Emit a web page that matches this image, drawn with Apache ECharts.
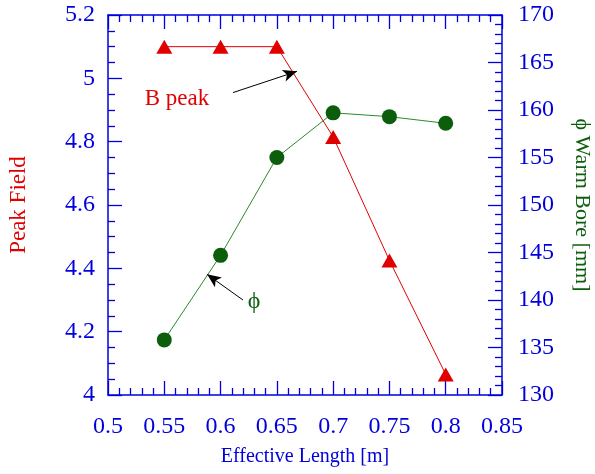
<!DOCTYPE html>
<html><head><meta charset="utf-8">
<script src="https://cdn.jsdelivr.net/npm/echarts@6/dist/echarts.min.js"></script>
<style>html,body{margin:0;padding:0;background:#fff}#c{width:595px;height:474px}</style>
</head><body><div id="c"></div>
<script>
const lengths = [0.55, 0.6, 0.65, 0.7, 0.75, 0.8];
const peakField = [5.1, 5.1, 5.1, 4.815, 4.425, 4.065];
const warmBore = [135.8, 144.7, 155.0, 159.7, 159.3, 158.6];
// annotation anchors in data coordinates
const bPeakLabel = [0.5613, 4.935];
const bPeakArrow = [[0.6110, 4.955], [0.6679, 5.022]];
const phiLabel = [0.6297, 139.8];
const phiArrow = [[0.6199, 140.0], [0.588, 142.7]];

const BLUE = '#0000dd', RED = '#e00000', GREEN = '#0c5e0c';
const FONT = '"Liberation Serif","Times New Roman",serif';
const chart = echarts.init(document.getElementById('c'));
const tickCommon = {inside: true, length: 14, lineStyle: {color: BLUE, width: 1.3}};
const minorCommon = {show: true, length: 7, lineStyle: {color: BLUE, width: 1.3}};
const lineCommon = {show: true, onZero: false, lineStyle: {color: BLUE, width: 1.5}};
chart.setOption({
  animation: false,
  grid: {left: 108, right: 93, top: 15, bottom: 79, containLabel: false, outerBoundsMode: 'none'},
  xAxis: [{
    type: 'value', min: 0.5, max: 0.85, interval: 0.05, position: 'bottom',
    name: 'Effective Length [m]', nameLocation: 'middle', nameGap: 52,
    nameTextStyle: {color: BLUE, fontFamily: FONT, fontSize: 20},
    axisLine: lineCommon, axisTick: tickCommon, minorTick: Object.assign({splitNumber: 5}, minorCommon),
    splitLine: {show: false},
    axisLabel: {color: BLUE, fontFamily: FONT, fontSize: 24, margin: 20}
  }, {
    type: 'value', min: 0.5, max: 0.85, interval: 0.05, position: 'top',
    axisLine: lineCommon, axisTick: tickCommon, minorTick: Object.assign({splitNumber: 5}, minorCommon),
    splitLine: {show: false}, axisLabel: {show: false}
  }],
  yAxis: [{
    type: 'value', min: 4, max: 5.2, interval: 0.2, position: 'left',
    name: 'Peak Field', nameLocation: 'middle', nameGap: 78, nameRotate: 90,
    nameTextStyle: {color: RED, fontFamily: FONT, fontSize: 23},
    axisLine: lineCommon, axisTick: tickCommon, minorTick: Object.assign({splitNumber: 4}, minorCommon),
    splitLine: {show: false},
    axisLabel: {color: BLUE, fontFamily: FONT, fontSize: 24, margin: 13}
  }, {
    type: 'value', min: 130, max: 170, interval: 5, position: 'right',
    name: 'ϕ Warm Bore [mm]', nameLocation: 'middle', nameGap: 69, nameRotate: -90,
    nameTextStyle: {color: GREEN, fontFamily: FONT, fontSize: 22},
    axisLine: lineCommon, axisTick: tickCommon, minorTick: Object.assign({splitNumber: 5}, minorCommon),
    splitLine: {show: false},
    axisLabel: {color: BLUE, fontFamily: FONT, fontSize: 24, margin: 16}
  }],
  series: [{
    type: 'line', xAxisIndex: 0, yAxisIndex: 0,
    data: lengths.map((x, i) => [x, peakField[i]]),
    symbol: 'triangle', symbolSize: [16, 14],
    lineStyle: {color: RED, width: 1}, itemStyle: {color: RED},
    markLine: {
      silent: true, symbol: ['none', 'arrow'], symbolSize: [9, 14],
      lineStyle: {color: '#000', width: 1, type: 'solid'}, label: {show: false},
      data: [[{coord: bPeakArrow[0]}, {coord: bPeakArrow[1]}]]
    },
    markPoint: {
      silent: true, symbol: 'circle', symbolSize: 0,
      label: {show: true, formatter: 'B peak', color: RED, fontFamily: FONT, fontSize: 23},
      data: [{coord: bPeakLabel}]
    },
    z: 3
  }, {
    type: 'line', xAxisIndex: 0, yAxisIndex: 1,
    data: lengths.map((x, i) => [x, warmBore[i]]),
    symbol: 'circle', symbolSize: 15,
    lineStyle: {color: '#2a8a2a', width: 1}, itemStyle: {color: GREEN},
    markLine: {
      silent: true, symbol: ['none', 'arrow'], symbolSize: [9, 14],
      lineStyle: {color: '#000', width: 1, type: 'solid'}, label: {show: false},
      data: [[{coord: phiArrow[0]}, {coord: phiArrow[1]}]]
    },
    markPoint: {
      silent: true, symbol: 'circle', symbolSize: 0,
      label: {show: true, formatter: 'ϕ', color: GREEN, fontFamily: FONT, fontSize: 24},
      data: [{coord: phiLabel}]
    },
    z: 3
  }]
});
</script></body></html>
